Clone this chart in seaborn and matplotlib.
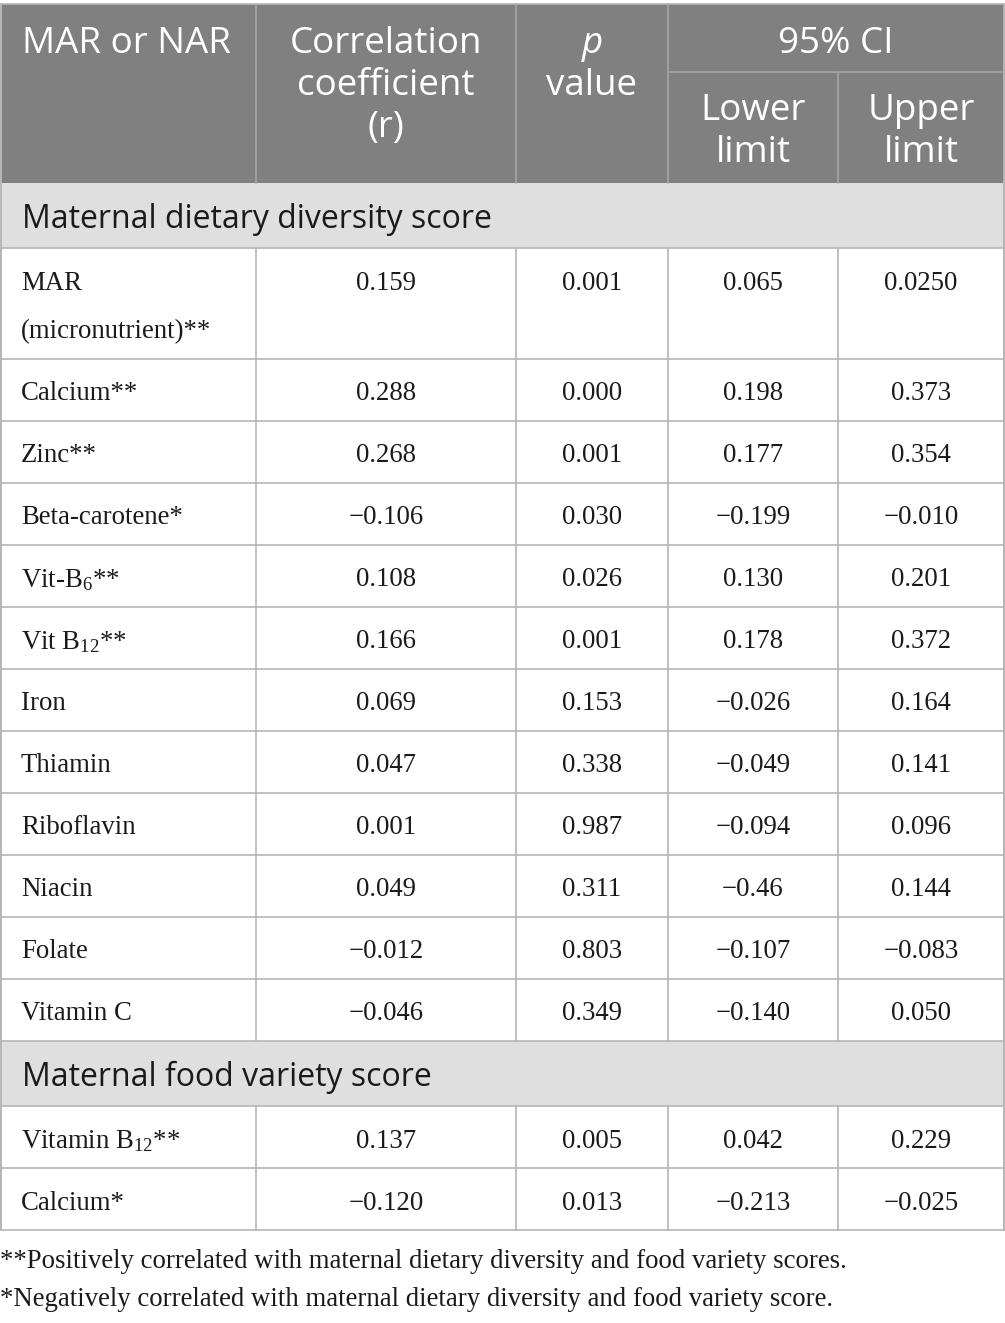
import matplotlib
matplotlib.use("Agg")
import matplotlib.pyplot as plt
import seaborn as sns

sns.set_theme(style="white")
plt.rcParams["mathtext.fontset"] = "custom"
plt.rcParams["mathtext.rm"] = "Liberation Serif"
plt.rcParams["mathtext.it"] = "Liberation Serif:italic"

# table content
section_1 = "Maternal dietary diversity score"
labels_1 = ["MAR\n(micronutrient)**", "Calcium**", "Zinc**", "Beta-carotene*",
            "Vit-B$_{6}$**", "Vit B$_{12}$**", "Iron", "Thiamin", "Riboflavin",
            "Niacin", "Folate", "Vitamin C"]
r_1 = ["0.159", "0.288", "0.268", "\u22120.106", "0.108", "0.166", "0.069",
       "0.047", "0.001", "0.049", "\u22120.012", "\u22120.046"]
p_1 = ["0.001", "0.000", "0.001", "0.030", "0.026", "0.001", "0.153",
       "0.338", "0.987", "0.311", "0.803", "0.349"]
lower_1 = ["0.065", "0.198", "0.177", "\u22120.199", "0.130", "0.178", "\u22120.026",
           "\u22120.049", "\u22120.094", "\u22120.46", "\u22120.107", "\u22120.140"]
upper_1 = ["0.0250", "0.373", "0.354", "\u22120.010", "0.201", "0.372", "0.164",
           "0.141", "0.096", "0.144", "\u22120.083", "0.050"]

section_2 = "Maternal food variety score"
labels_2 = ["Vitamin B$_{12}$**", "Calcium*"]
r_2 = ["0.137", "\u22120.120"]
p_2 = ["0.005", "0.013"]
lower_2 = ["0.042", "\u22120.213"]
upper_2 = ["0.229", "\u22120.025"]

footnotes = ["**Positively correlated with maternal dietary diversity and food variety scores.",
             "*Negatively correlated with maternal dietary diversity and food variety score."]

# layout (pixels)
W, H = 1005, 1323
col_edges = [1, 256, 516, 668, 838, 1004]
header_top, header_mid, header_bot = 4, 72, 183
section_h = 65
row_h, row_h2 = 62, 111
header_bg = "#808080"
section_bg = "#e0dfe0"
line_c = "#b5b5b5"
head_line_c = "#a6a6a6"
text_c = "#1a1a1a"
sans = ["Open Sans", "DejaVu Sans"]
serif = ["Liberation Serif", "DejaVu Serif"]
head_fs, sec_fs, cell_fs = 26.5, 23, 19.3
head_step = 42

fig = plt.figure(figsize=(W / 100, H / 100), dpi=100)
ax = fig.add_axes([0, 0, 1, 1])
ax.set_xlim(0, W)
ax.set_ylim(H, 0)
ax.axis("off")

x0, x1 = col_edges[0], col_edges[-1]
centers = [(col_edges[i] + col_edges[i + 1]) / 2 for i in range(len(col_edges) - 1)]

# header
ax.add_patch(plt.Rectangle((x0, header_top), x1 - x0, header_bot - header_top,
                           facecolor=header_bg, edgecolor="none"))
for xe in col_edges[1:-1]:
    ytop = header_mid if xe == col_edges[4] else header_top
    ax.plot([xe, xe], [ytop, header_bot], color=head_line_c, lw=1.2)
ax.plot([col_edges[3], x1], [header_mid, header_mid], color=head_line_c, lw=1.2)
ax.plot([x0, x1], [header_top, header_top], color=line_c, lw=1.2)


def head_text(x, y, lines, ha="center", style="normal"):
    for k, line in enumerate(lines):
        ax.text(x, y + k * head_step, line, family=sans, fontsize=head_fs, color="white",
                ha=ha, va="center", style=style)


hy = header_top + 40
head_text(22, hy, ["MAR or NAR"], ha="left")
head_text(centers[1], hy, ["Correlation", "coefficient", "(r)"])
head_text(centers[2], hy, ["p"], style="italic")
head_text(centers[2], hy + head_step, ["value"])
head_text((col_edges[3] + x1) / 2, hy, ["95% CI"])
head_text(centers[3], 111, ["Lower", "limit"])
head_text(centers[4], 111, ["Upper", "limit"])


def draw_section(y, title):
    ax.add_patch(plt.Rectangle((x0, y), x1 - x0, section_h, facecolor=section_bg,
                               edgecolor="none"))
    ax.text(22, y + section_h / 2 + 4, title, family=sans, fontsize=sec_fs,
            color=text_c, ha="left", va="center")
    ax.plot([x0, x1], [y + section_h, y + section_h], color=line_c, lw=1.2)
    return y + section_h


def draw_rows(y, labels, r, p, lo, up):
    for i, lab in enumerate(labels):
        h = row_h2 if "\n" in lab else row_h
        ty = y + 35
        for k, part in enumerate(lab.split("\n")):
            ax.text(21, ty + k * 49, part, family=serif, fontsize=cell_fs,
                    color=text_c, ha="left", va="center")
        for c, vals in zip(centers[1:], [r, p, lo, up]):
            ax.text(c, ty, vals[i], family=serif, fontsize=cell_fs,
                    color=text_c, ha="center", va="center")
        for xe in col_edges[1:-1]:
            ax.plot([xe, xe], [y, y + h], color=line_c, lw=1.2)
        y += h
        ax.plot([x0, x1], [y, y], color=line_c, lw=1.2)
    return y


y = draw_section(header_bot, section_1)
y = draw_rows(y, labels_1, r_1, p_1, lower_1, upper_1)
y = draw_section(y, section_2)
y = draw_rows(y, labels_2, r_2, p_2, lower_2, upper_2)
table_bottom = y

ax.plot([x0, x0], [header_top, table_bottom], color=line_c, lw=1.4)
ax.plot([x1, x1], [header_top, table_bottom], color=line_c, lw=1.4)

for k, note in enumerate(footnotes):
    ax.text(0, table_bottom + 31 + k * 39, note, family=serif, fontsize=cell_fs,
            color=text_c, ha="left", va="center")

fig.savefig("out.png", dpi=100)
